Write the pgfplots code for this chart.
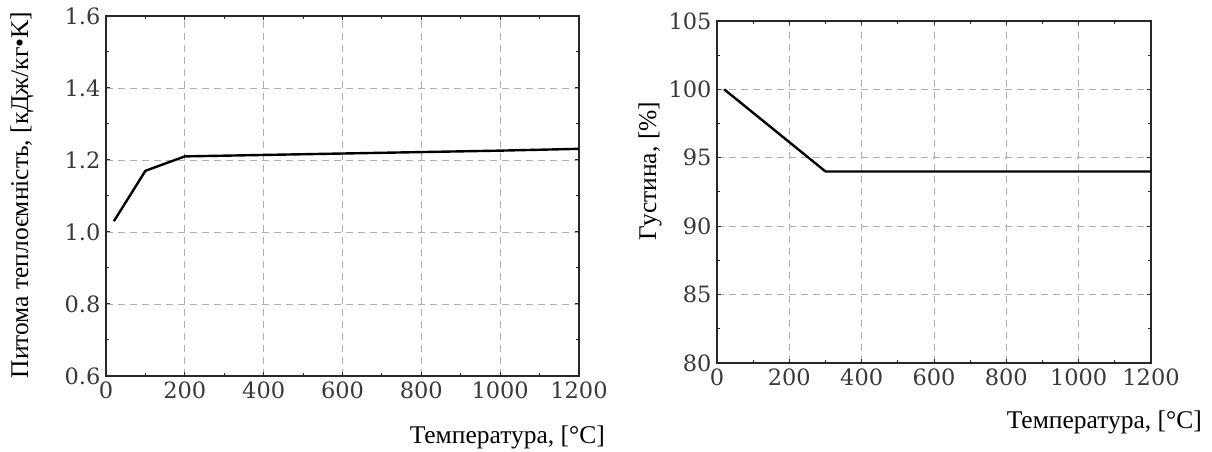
\documentclass[border=0pt]{standalone}
\usepackage{fontspec}
\setmainfont{Liberation Serif}
\newfontfamily\tickfont{DejaVu Serif}
\usepackage{pgfplots}
\pgfplotsset{compat=1.18}
\definecolor{gridgray}{RGB}{175,175,175}
\definecolor{axgray}{RGB}{40,40,40}
\pgfplotsset{
  common/.style={
    scale only axis,
    xmin=0, xmax=1200,
    xtick={0,200,...,1200},
    minor x tick num=1,
    minor y tick num=1,
    grid=major,
    major grid style={gridgray, dash pattern=on 7pt off 5pt, line width=0.9pt},
    axis line style={axgray, line width=1.8pt},
    tick style={axgray, line width=1pt},
    major tick length=4pt,
    minor tick length=3pt,
    tick align=inside,
    /pgf/number format/assume math mode=true,
    /pgf/number format/1000 sep={},
    tick label style={font=\tickfont\fontsize{22.5}{26}\selectfont, text=black!78},
    xticklabel style={yshift=-2pt},
    yticklabel style={xshift=-2pt},
  }
}
\begin{document}
\begin{tikzpicture}[x=1pt,y=1pt]
\path (0,0) rectangle (1212,452);
\begin{axis}[common,
  at={(106pt,76pt)}, anchor=south west,
  width=473pt, height=360pt,
  ymin=0.6, ymax=1.6,
  ytick={0.6,0.8,...,1.6},
  yticklabel style={/pgf/number format/.cd,fixed,fixed zerofill,precision=1},
]
\addplot[black, line width=2.4pt, no marks] coordinates {(20,1.03) (100,1.17) (200,1.21) (400,1.214) (600,1.218) (800,1.222) (1000,1.226) (1200,1.231)};
\end{axis}
\begin{axis}[common,
  at={(717pt,89pt)}, anchor=south west,
  width=434pt, height=342pt,
  ymin=80, ymax=105,
  ytick={80,85,...,105},
]
\addplot[black, line width=2.4pt, no marks] coordinates {(20,100) (300,94) (1200,94)};
\end{axis}
\node[font=\fontsize{25.5}{28}\selectfont, anchor=east, inner sep=0pt] at (605,15) {Температура, [°C]};
\node[font=\fontsize{25.5}{28}\selectfont, anchor=east, inner sep=0pt] at (1202,30) {Температура, [°C]};
\node[font=\fontsize{25.5}{28}\selectfont, rotate=90, inner sep=0pt] at (22,257) {Питома теплоємність, [кДж/кг•K]};
\node[font=\fontsize{25.5}{28}\selectfont, rotate=90, inner sep=0pt] at (650,281) {Густина, [\%]};
\end{tikzpicture}
\end{document}
